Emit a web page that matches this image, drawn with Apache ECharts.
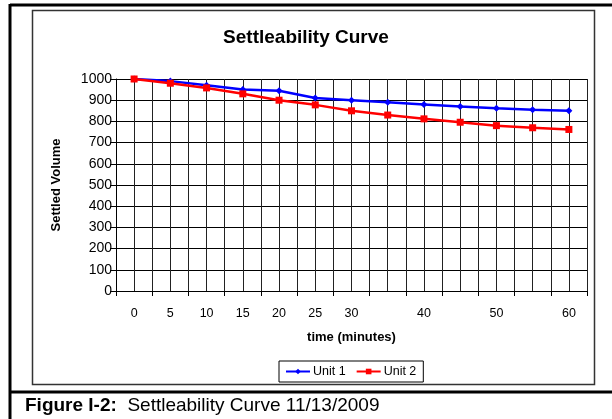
<!DOCTYPE html>
<html>
<head>
<meta charset="utf-8">
<script src="https://cdn.jsdelivr.net/npm/echarts@6/dist/echarts.min.js"></script>
<style>
  html, body { margin: 0; padding: 0; background: #fff; }
  #chart { width: 612px; height: 419px; }
</style>
</head>
<body>
<div id="chart"></div>
<script>
// Sampling times (minutes); labels for 35, 45 and 55 are left blank on the axis
const categories = ['0', '5', '10', '15', '20', '25', '30', '35', '40', '45', '50', '55', '60'];
const tickLabels = ['0', '5', '10', '15', '20', '25', '30', '', '40', '', '50', '', '60'];
// Settled volume readings
const unit1 = [1000, 990, 970, 950, 945, 910, 900, 890, 880, 870, 862, 855, 850];
const unit2 = [1000, 980, 958, 930, 900, 878, 850, 830, 812, 796, 780, 770, 762];
const yTicks = { min: 0, max: 1000, step: 100 };

// Half-category grid for the fine vertical rules
const halfCats = categories.flatMap(c => [c + 'a', c + 'b']);

const chart = echarts.init(document.getElementById('chart'), null, { renderer: 'canvas' });
const FONT = 'Liberation Sans, Arial, sans-serif';

chart.setOption({
  backgroundColor: '#fff',
  animation: false,
  title: {
    text: 'Settleability Curve',
    left: 'center',
    top: 23,
    textStyle: { fontFamily: FONT, fontSize: 19, fontWeight: 'bold', color: '#000' }
  },
  grid: { left: 116, top: 79, right: 25, bottom: 128, containLabel: false },
  legend: {
    data: ['Unit 1', 'Unit 2'],
    left: 279,
    top: 361,
    orient: 'horizontal',
    itemWidth: 24,
    itemHeight: 7,
    itemGap: 10,
    padding: [4, 7, 4, 6],
    borderColor: '#000',
    borderWidth: 1,
    textStyle: { fontFamily: FONT, fontSize: 12.5, color: '#000', padding: [0, 0, 0, -2] }
  },
  xAxis: [
    {
      type: 'category',
      data: categories,
      boundaryGap: true,
      name: 'time (minutes)',
      nameLocation: 'middle',
      nameGap: 40,
      nameTextStyle: { fontFamily: FONT, fontSize: 13, fontWeight: 'bold', color: '#000' },
      axisLine: { lineStyle: { color: '#000', width: 1 } },
      axisTick: { show: true, inside: false, length: 5, lineStyle: { color: '#000' } },
      axisLabel: {
        interval: 0,
        margin: 16,
        fontFamily: FONT, fontSize: 12.5, color: '#000',
        formatter: (v, i) => tickLabels[i]
      },
      splitLine: { show: false }
    },
    {
      type: 'category',
      data: halfCats,
      boundaryGap: true,
      position: 'bottom',
      axisLine: { show: false },
      axisTick: { show: false },
      axisLabel: { show: false },
      splitLine: { show: true, interval: 0, lineStyle: { color: '#222', width: 1 } }
    }
  ],
  yAxis: {
    type: 'value',
    min: yTicks.min,
    max: yTicks.max,
    interval: yTicks.step,
    name: 'Settled Volume',
    nameLocation: 'middle',
    nameRotate: 90,
    nameGap: 53,
    nameTextStyle: { fontFamily: FONT, fontSize: 13, fontWeight: 'bold', color: '#000' },
    axisLine: { show: true, lineStyle: { color: '#000', width: 1 } },
    axisTick: { show: true, inside: false, length: 6, lineStyle: { color: '#000' } },
    axisLabel: { margin: 4, fontFamily: FONT, fontSize: 14, color: '#000', formatter: v => String(v) },
    splitLine: { show: true, lineStyle: { color: '#000', width: 1 } }
  },
  series: [
    {
      name: 'Unit 1',
      type: 'line',
      xAxisIndex: 0,
      data: unit1,
      symbol: 'diamond',
      symbolSize: 7,
      color: '#0000FF',
      lineStyle: { color: '#0000FF', width: 2.5 },
      itemStyle: { color: '#0000FF' },
      z: 3
    },
    {
      name: 'Unit 2',
      type: 'line',
      xAxisIndex: 0,
      data: unit2,
      symbol: 'rect',
      symbolSize: 7,
      color: '#FF0000',
      lineStyle: { color: '#FF0000', width: 2.5 },
      itemStyle: { color: '#FF0000' },
      z: 4
    }
  ],
  graphic: [
    // outer figure frame
    { type: 'line', shape: { x1: 10, y1: 5, x2: 612, y2: 5 }, style: { stroke: '#000', lineWidth: 3 }, silent: true },
    { type: 'line', shape: { x1: 10, y1: 4, x2: 10, y2: 419 }, style: { stroke: '#000', lineWidth: 3 }, silent: true },
    { type: 'line', shape: { x1: 9, y1: 392, x2: 612, y2: 392 }, style: { stroke: '#000', lineWidth: 3 }, silent: true },
    // chart area box
    { type: 'rect', shape: { x: 32.5, y: 10.5, width: 562, height: 374 }, style: { fill: 'none', stroke: '#333', lineWidth: 1.5 }, silent: true, z: -1 },
    // figure caption
    {
      type: 'text', left: 25, top: 396, silent: true,
      style: {
        text: '{b|Figure I-2:}  Settleability Curve 11/13/2009',
        fontFamily: FONT, fontSize: 19, fill: '#000',
        rich: { b: { fontFamily: FONT, fontSize: 19, fontWeight: 'bold', fill: '#000' } }
      }
    }
  ]
});
</script>
</body>
</html>
